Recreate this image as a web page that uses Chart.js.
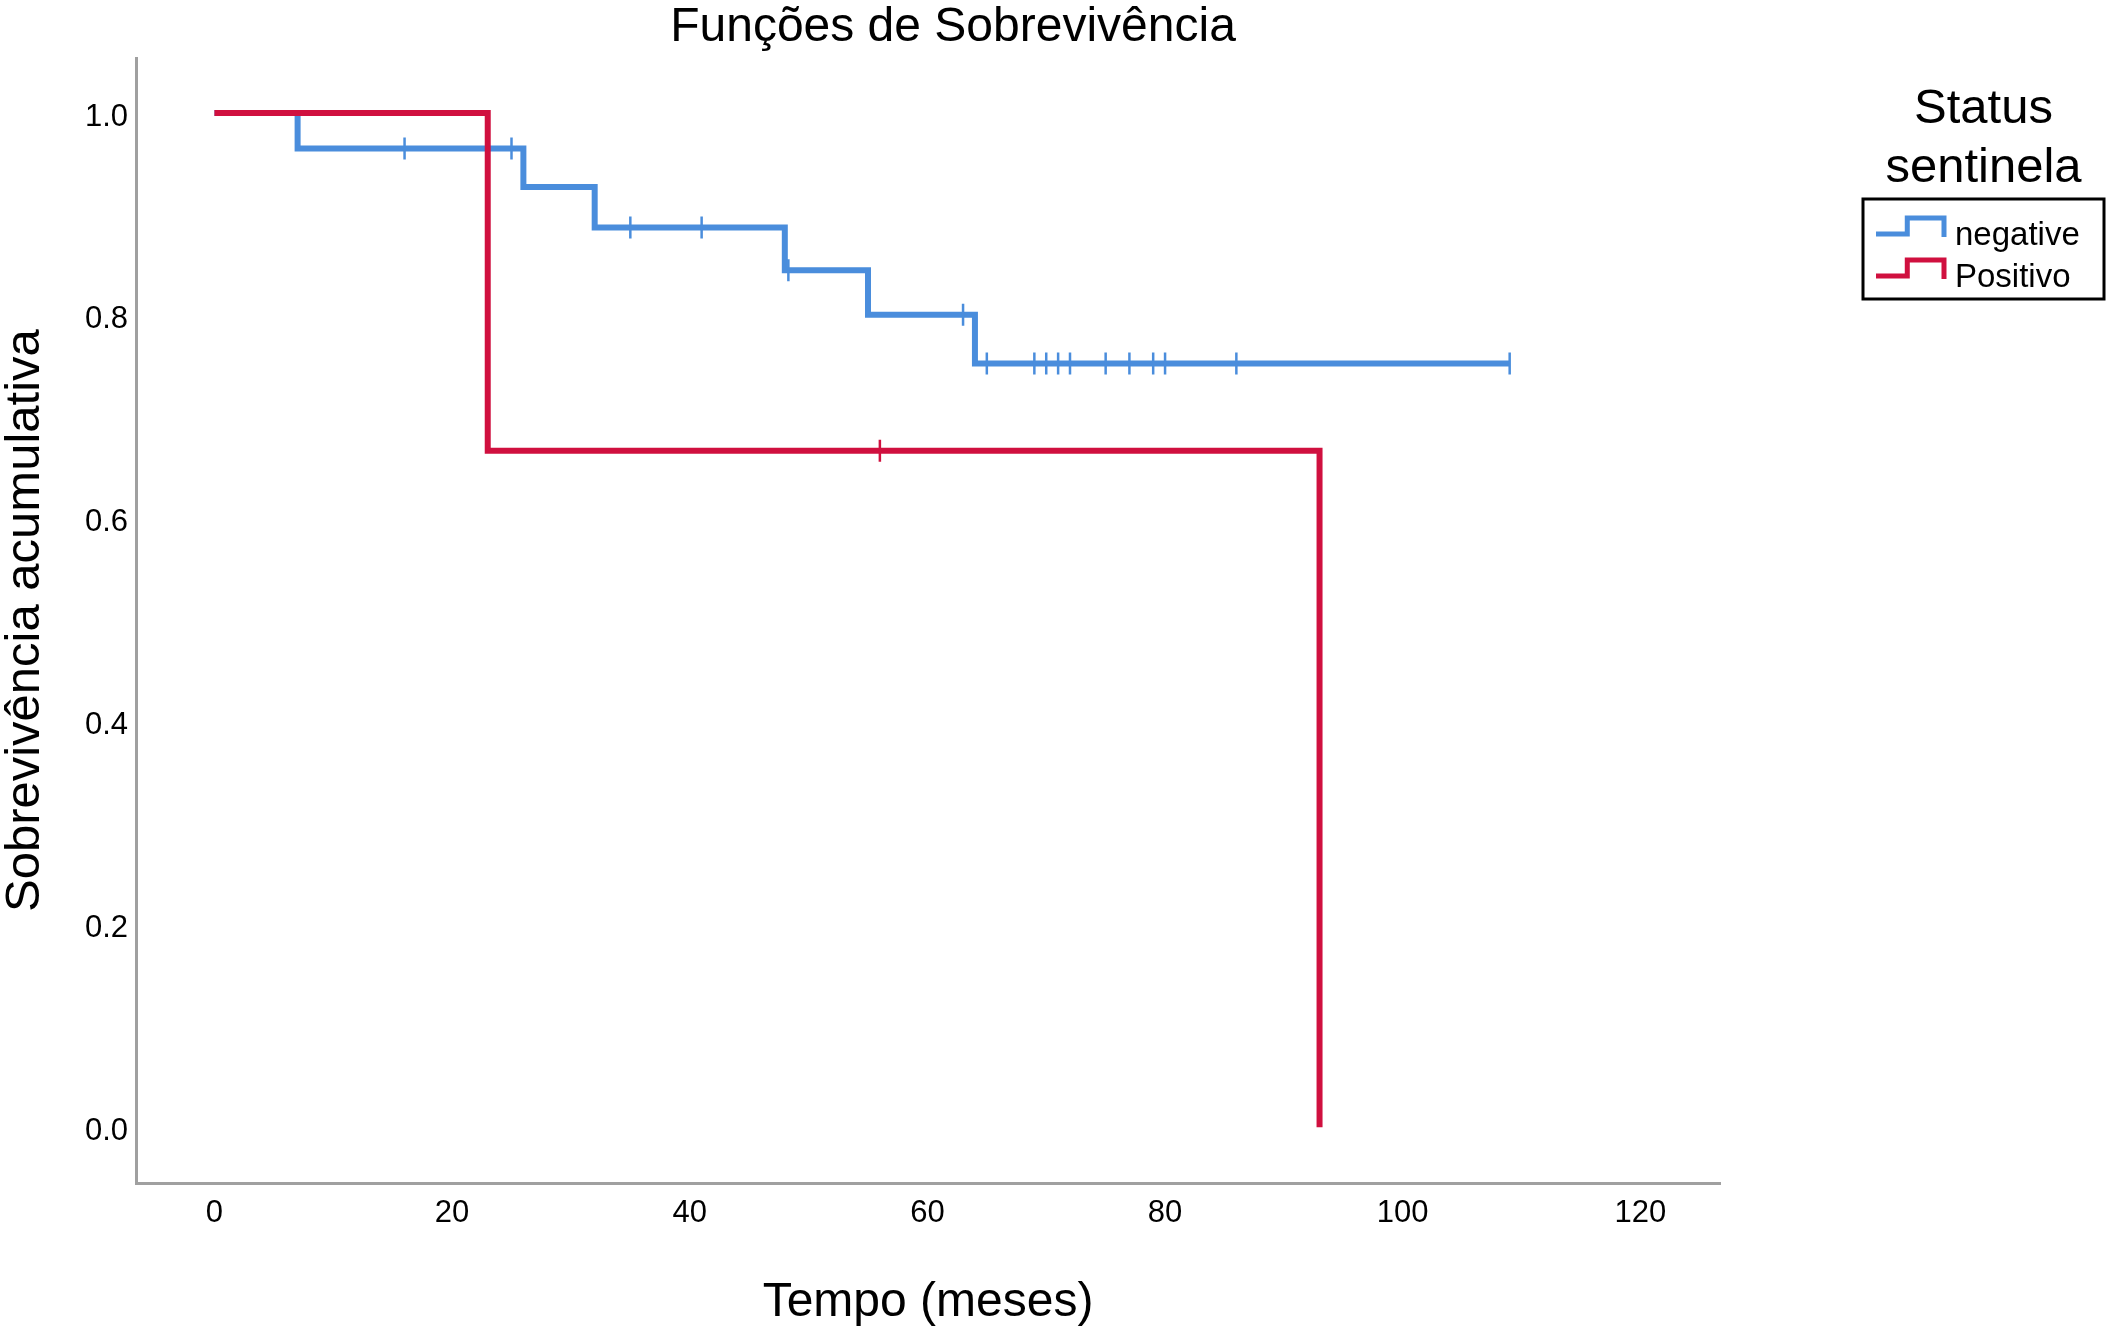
<!DOCTYPE html>
<html>
<head>
<meta charset="utf-8">
<title>Funções de Sobrevivência</title>
<script src="https://cdn.jsdelivr.net/npm/chart.js@4"></script>
<style>
    body { margin: 0; background: #fff; }
    #wrap { width: 2108px; height: 1328px; }
</style>
</head>
<body>
<div id="wrap"><canvas id="kmChart"></canvas></div>
<script>
const FONT = '"Liberation Sans", Arial, Helvetica, sans-serif';

// Kaplan-Meier: tempos (meses) e sobrevivência acumulada em cada degrau
const negativeTimes = [0, 7, 26, 32, 48, 55, 64, 109];
const negativeSurvival = [1.0, 0.965, 0.927, 0.887, 0.845, 0.801, 0.753, 0.753];
const positiveTimes = [0, 23, 93];
const positiveSurvival = [1.0, 0.667, 0.0];

// casos censurados (marcas +)
const negativeCensored = [16, 25, 35, 41, 48.3, 63, 65, 69, 70, 71, 72, 75, 77, 79, 80, 86, 109];
const positiveCensored = [56];

const xTicks = [0, 20, 40, 60, 80, 100, 120];
const yTicks = [0.0, 0.2, 0.4, 0.6, 0.8, 1.0];
const groupLabels = ['negative', 'Positivo'];
const groupColors = ['#4a8ddc', '#d0103f'];
const legendTitle = ['Status', 'sentinela'];

function toPoints(xs, ys) {
    return xs.map((x, i) => ({ x: x, y: ys[i] }));
}

// valor da curva no tempo t (para pôr a marca de censura em cima do degrau)
function survivalAt(times, surv, t) {
    let s = surv[0];
    for (let i = 0; i < times.length; i++) {
        if (times[i] <= t) s = surv[i];
    }
    return s;
}

function censorPoints(censored, times, surv) {
    return censored.map(t => ({ x: t, y: survivalAt(times, surv, t) }));
}

function stepDataset(label, color, points, order) {
    return {
        label: label,
        data: points,
        borderColor: color,
        borderWidth: 6,
        stepped: true,
        pointRadius: 0,
        fill: false,
        order: order
    };
}

function censorDataset(color, points, order) {
    return {
        censor: true,
        data: points,
        showLine: false,
        pointStyle: 'line',
        rotation: 90,
        pointRadius: 11,
        pointBorderWidth: 2.5,
        pointBorderColor: color,
        borderColor: color,
        order: order
    };
}

// legenda com caixa e ícone em degrau
const stepLegend = {
    id: 'stepLegend',
    afterDraw(chart) {
        const ctx = chart.ctx;
        const items = chart.data.datasets.filter(d => !d.censor);
        const boxRight = chart.width - 4;
        const boxLeft = boxRight - 241;
        const boxTop = 199;
        const boxBottom = 299;
        const cx = (boxLeft + boxRight) / 2;

        ctx.save();
        ctx.fillStyle = '#000';
        ctx.textAlign = 'center';
        ctx.textBaseline = 'middle';
        ctx.font = '49px ' + FONT;
        legendTitle.forEach((line, i) => ctx.fillText(line, cx, 109 + i * 59));

        ctx.strokeStyle = '#000';
        ctx.lineWidth = 3;
        ctx.strokeRect(boxLeft, boxTop, boxRight - boxLeft, boxBottom - boxTop);

        ctx.textAlign = 'left';
        ctx.font = '33px ' + FONT;
        items.forEach((d, i) => {
            const cy = 236 + i * 42;
            const x0 = boxLeft + 13;
            const w = 68;
            ctx.strokeStyle = d.borderColor;
            ctx.lineWidth = 5;
            ctx.lineJoin = 'miter';
            ctx.beginPath();
            ctx.moveTo(x0, cy - 2);
            ctx.lineTo(x0 + w * 0.46, cy - 2);
            ctx.lineTo(x0 + w * 0.46, cy - 18);
            ctx.lineTo(x0 + w, cy - 18);
            ctx.lineTo(x0 + w, cy + 1);
            ctx.stroke();
            ctx.fillStyle = '#000';
            ctx.fillText(d.label, boxLeft + 92, cy);
        });
        ctx.restore();
    }
};

const axisBorder = { display: true, color: '#a0a0a0', width: 3 };

new Chart(document.getElementById('kmChart'), {
    type: 'line',
    data: {
        datasets: [
            stepDataset(groupLabels[0], groupColors[0], toPoints(negativeTimes, negativeSurvival), 3),
            stepDataset(groupLabels[1], groupColors[1], toPoints(positiveTimes, positiveSurvival), 1),
            censorDataset(groupColors[0], censorPoints(negativeCensored, negativeTimes, negativeSurvival), 2),
            censorDataset(groupColors[1], censorPoints(positiveCensored, positiveTimes, positiveSurvival), 0)
        ]
    },
    options: {
        responsive: true,
        maintainAspectRatio: false,
        animation: false,
        layout: { padding: { left: 0, right: 202, top: 0, bottom: 0 } },
        plugins: {
            legend: { display: false },
            tooltip: { enabled: false },
            title: {
                display: true,
                text: 'Funções de Sobrevivência',
                color: '#000',
                font: { family: FONT, size: 48, weight: 'normal', lineHeight: 1.15 },
                padding: { top: 0, bottom: 3 }
            }
        },
        scales: {
            x: {
                type: 'linear',
                min: -6.6,
                max: 126.7,
                afterBuildTicks: s => { s.ticks = xTicks.map(v => ({ value: v })); },
                afterFit: s => { s.height = 145; },
                grid: { display: false, drawTicks: false },
                border: axisBorder,
                ticks: {
                    padding: 12,
                    color: '#000',
                    maxRotation: 0,
                    font: { family: FONT, size: 31 },
                    callback: v => String(v)
                },
                title: {
                    display: true,
                    text: 'Tempo (meses)',
                    color: '#000',
                    font: { family: FONT, size: 48, lineHeight: 1.05 },
                    padding: 0
                }
            },
            y: {
                type: 'linear',
                min: -0.055,
                max: 1.054,
                afterBuildTicks: s => { s.ticks = yTicks.map(v => ({ value: v })); },
                afterFit: s => { s.width = 136; },
                grid: { display: false, drawTicks: false },
                border: axisBorder,
                ticks: {
                    padding: 8,
                    labelOffset: 4,
                    color: '#000',
                    font: { family: FONT, size: 31 },
                    callback: v => Number(v).toFixed(1)
                },
                title: {
                    display: true,
                    text: 'Sobrevivência acumulativa',
                    color: '#000',
                    font: { family: FONT, size: 49, lineHeight: 1.05 },
                    padding: 0
                }
            },
            // eixo vazio só para reservar o espaço à direita (a legenda fica lá)
            y2: {
                type: 'linear',
                position: 'right',
                afterFit: s => { s.width = 186; },
                grid: { display: false, drawTicks: false },
                border: { display: false },
                ticks: { display: false }
            }
        }
    },
    plugins: [stepLegend]
});
</script>
</body>
</html>
